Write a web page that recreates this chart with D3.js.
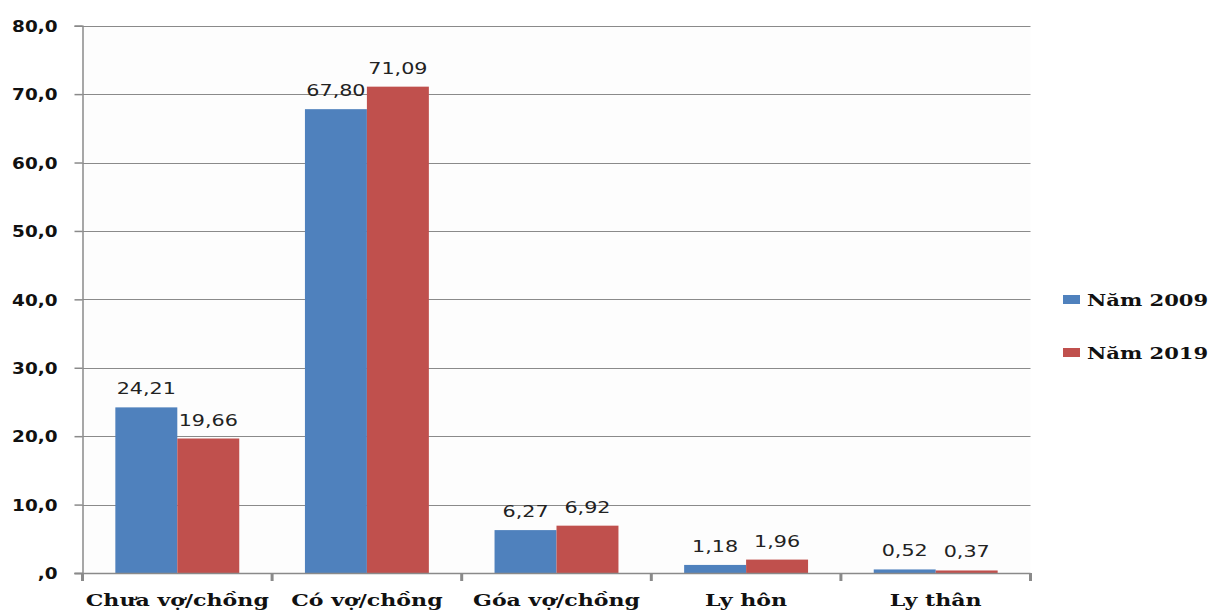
<!DOCTYPE html>
<html>
<head>
<meta charset="utf-8">
<script src="https://cdn.jsdelivr.net/npm/d3@7"></script>
<style>
  html, body { margin: 0; padding: 0; background: #fff; }
  svg { display: block; }
</style>
</head>
<body>
<svg id="chart" width="1209" height="610"></svg>
<script>
// Tình trạng hôn nhân (%), so sánh hai kỳ tổng điều tra
const categories = ["Chưa vợ/chồng", "Có vợ/chồng", "Góa vợ/chồng", "Ly hôn", "Ly thân"];
const seriesNames = ["Năm 2009", "Năm 2019"];
const values2009 = [24.21, 67.80, 6.27, 1.18, 0.52];
const values2019 = [19.66, 71.09, 6.92, 1.96, 0.37];
const yTicks = [0, 10, 20, 30, 40, 50, 60, 70, 80];
const colors = ["#4F81BD", "#C0504D"];

const svg = d3.select("#chart");
const plotLeft = 82.5, plotRight = 1030.5, plotTop = 25.7, plotBottom = 573;

const x = d3.scaleBand().domain(categories).range([plotLeft, plotRight]).paddingInner(0).paddingOuter(0);
const xs = d3.scaleBand().domain(seriesNames).range([0, x.bandwidth()]).paddingInner(0).paddingOuter(0.53);
const y = d3.scaleLinear().domain([0, 80]).range([plotBottom, plotTop]);

const fmt = v => d3.format(".2f")(v).replace(".", ",");
const fmtTick = v => v === 0 ? ",0" : d3.format(".1f")(v).replace(".", ",");

// plot background
svg.append("rect").attr("x", plotLeft).attr("y", plotTop)
  .attr("width", plotRight - plotLeft).attr("height", plotBottom - plotTop)
  .attr("fill", "#fdfdfd");

// horizontal gridlines
svg.append("g").selectAll("line").data(yTicks.filter(d => d > 0)).join("line")
  .attr("x1", plotLeft).attr("x2", plotRight)
  .attr("y1", d => Math.round(y(d)) + 0.5).attr("y2", d => Math.round(y(d)) + 0.5)
  .attr("stroke", "#8a8a8a").attr("stroke-width", 1.2);

// y axis
const yAxis = svg.append("g").attr("transform", `translate(${plotLeft},0)`)
  .call(d3.axisLeft(y).tickValues(yTicks).tickFormat(fmtTick).tickSize(8).tickPadding(0));
yAxis.select(".domain").attr("stroke", "#8a8a8a").attr("stroke-width", 1.5);
yAxis.selectAll(".tick line").attr("stroke", "#8a8a8a").attr("stroke-width", 1.5);
yAxis.selectAll(".tick text").remove();
yAxis.selectAll(".tick").append("g")
  .attr("transform", "translate(-25,0) scale(1.15,1)")
  .append("text")
  .attr("text-anchor", "end").attr("dy", "0.36em")
  .attr("font-family", "DejaVu Sans").attr("font-weight", "bold").attr("font-size", 16)
  .attr("fill", "#111")
  .text(d => fmtTick(d));

// bars with value labels
const groups = svg.append("g").selectAll("g").data(categories).join("g")
  .attr("transform", d => `translate(${x(d)},0)`);
const seriesVals = [values2009, values2019];
groups.each(function(cat, i) {
  const g = d3.select(this);
  seriesNames.forEach((s, j) => {
    const v = seriesVals[j][i];
    g.append("rect")
      .attr("x", xs(s)).attr("width", xs.bandwidth())
      .attr("y", y(v)).attr("height", y(0) - y(v))
      .attr("fill", colors[j]);
    g.append("g")
      .attr("transform", `translate(${xs(s) + xs.bandwidth() / 2},${y(v) - 13}) scale(1.38,1)`)
      .append("text")
      .attr("text-anchor", "middle")
      .attr("font-family", "DejaVu Sans").attr("font-size", 15)
      .attr("fill", "#222")
      .text(fmt(v));
  });
});

// x axis
const xAxis = svg.append("g").attr("transform", `translate(0,${plotBottom})`);
xAxis.append("line").attr("x1", plotLeft - 8).attr("x2", plotRight).attr("y1", 0.5).attr("y2", 0.5)
  .attr("stroke", "#8a8a8a").attr("stroke-width", 1.5);
const bounds = categories.map(c => x(c)).concat([plotRight]);
xAxis.selectAll("line.tk").data(bounds).join("line").attr("class", "tk")
  .attr("x1", d => d).attr("x2", d => d).attr("y1", 0).attr("y2", 8)
  .attr("stroke", "#8a8a8a").attr("stroke-width", 3);
xAxis.selectAll("g.lbl").data(categories).join("g").attr("class", "lbl")
  .attr("transform", d => `translate(${x(d) + x.bandwidth() / 2},33) scale(1.3,1)`)
  .append("text")
  .attr("text-anchor", "middle")
  .attr("font-family", "DejaVu Serif").attr("font-weight", "bold").attr("font-size", 17)
  .attr("fill", "#111")
  .text(d => d);

// legend
const legend = svg.append("g").selectAll("g").data(seriesNames).join("g")
  .attr("transform", (d, i) => `translate(1063,${299 + i * 53})`);
legend.append("rect").attr("x", 0).attr("y", -4).attr("width", 17).attr("height", 9)
  .attr("fill", (d, i) => colors[i]);
legend.append("g").attr("transform", "translate(24,7) scale(1.24,1)")
  .append("text")
  .attr("font-family", "DejaVu Serif").attr("font-weight", "bold").attr("font-size", 17)
  .attr("fill", "#111")
  .text(d => d);
</script>
</body>
</html>
